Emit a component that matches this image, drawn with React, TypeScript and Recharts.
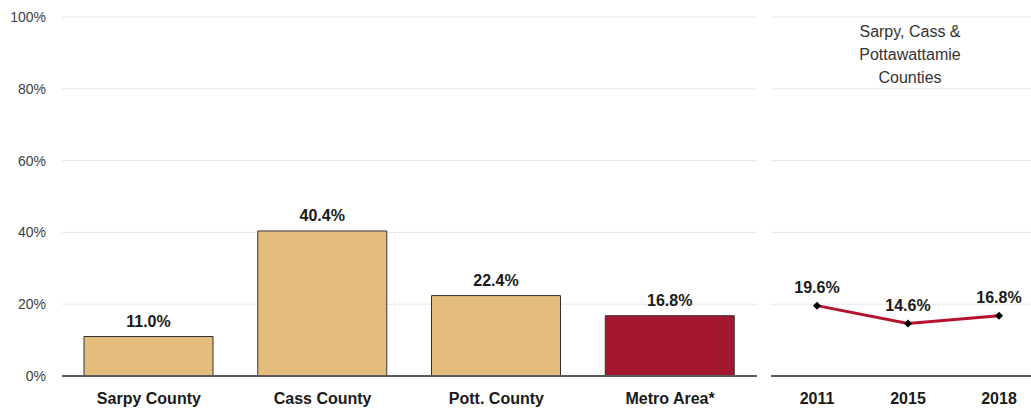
import React from "react";
import { BarChart, Bar, LineChart, Line, XAxis, YAxis, CartesianGrid, Cell, LabelList } from "recharts";

const areas = ["Sarpy County", "Cass County", "Pott. County", "Metro Area*"];
const areaValues = [11.0, 40.4, 22.4, 16.8];
const years = ["2011", "2015", "2018"];
const yearValues = [19.6, 14.6, 16.8];
const pctTicks = [0, 20, 40, 60, 80, 100];
const panelTitle = ["Sarpy, Cass &", "Pottawattamie", "Counties"];

const font = '"Liberation Sans", Arial, sans-serif';
const tan = "#E4BC7E";
const maroon = "#A31830";

const barData = areas.map((name, i) => ({ name, value: areaValues[i] }));
const lineData = years.map((year, i) => ({ year, value: yearValues[i] }));

const pct = (v: number) => `${Number(v).toFixed(1)}%`;

function Diamond(props: any) {
  const { cx, cy } = props;
  if (cx == null || cy == null) return null;
  const r = 4;
  return <path d={`M${cx},${cy - r}L${cx + r},${cy}L${cx},${cy + r}L${cx - r},${cy}Z`} fill="#000" />;
}

export default function App() {
  const labelStyle = { fontSize: 16, fontWeight: 700, fill: "#1a1a1a", fontFamily: font };
  const xTick = { fontSize: 16, fontWeight: 700, fill: "#1a1a1a", fontFamily: font };

  return (
    <div style={{ position: "absolute", left: 0, top: 0, width: 1031, height: 410, display: "flex", fontFamily: font, background: "#fff" }}>
      <BarChart width={771} height={410} data={barData} margin={{ top: 17, right: 14, bottom: 0, left: 0 }}>
        <CartesianGrid vertical={false} stroke="#e6e6e6" />
        <XAxis
          dataKey="name"
          height={34}
          tickLine={false}
          tickSize={0}
          tickMargin={17}
          axisLine={{ stroke: "#595959", strokeWidth: 2 }}
          tick={xTick}
          interval={0}
        />
        <YAxis
          width={62}
          domain={[0, 100]}
          ticks={pctTicks}
          tickFormatter={(v: number) => `${v}%`}
          axisLine={false}
          tickLine={false}
          tickSize={0}
          tickMargin={16}
          tick={{ fontSize: 14, fill: "#404040", fontFamily: font }}
        />
        <Bar dataKey="value" barSize={129} stroke="#333" strokeWidth={1} isAnimationActive={false}>
          {barData.map((d, i) => (
            <Cell key={d.name} fill={i === barData.length - 1 ? maroon : tan} />
          ))}
          <LabelList dataKey="value" position="top" offset={10} formatter={pct} style={labelStyle} />
        </Bar>
      </BarChart>

      <div style={{ position: "relative" }}>
        <LineChart width={260} height={410} data={lineData} margin={{ top: 17, right: 0, bottom: 0, left: 0 }}>
          <CartesianGrid vertical={false} stroke="#e6e6e6" />
          <XAxis
            dataKey="year"
            height={34}
            padding={{ left: 46, right: 32 }}
            tickLine={false}
            tickSize={0}
            tickMargin={17}
            axisLine={{ stroke: "#595959", strokeWidth: 2 }}
            tick={xTick}
            interval={0}
          />
          <YAxis hide domain={[0, 100]} ticks={pctTicks} />
          <Line
            dataKey="value"
            stroke="#B5122E"
            strokeWidth={3}
            dot={<Diamond />}
            activeDot={false}
            isAnimationActive={false}
          >
            <LabelList dataKey="value" position="top" offset={13} formatter={pct} style={labelStyle} />
          </Line>
        </LineChart>
        <div
          style={{
            position: "absolute",
            left: 60,
            width: 158,
            top: 20,
            textAlign: "center",
            fontSize: 16,
            lineHeight: "23px",
            color: "#333",
          }}
        >
          {panelTitle.map((t) => (
            <div key={t}>{t}</div>
          ))}
        </div>
      </div>
    </div>
  );
}
